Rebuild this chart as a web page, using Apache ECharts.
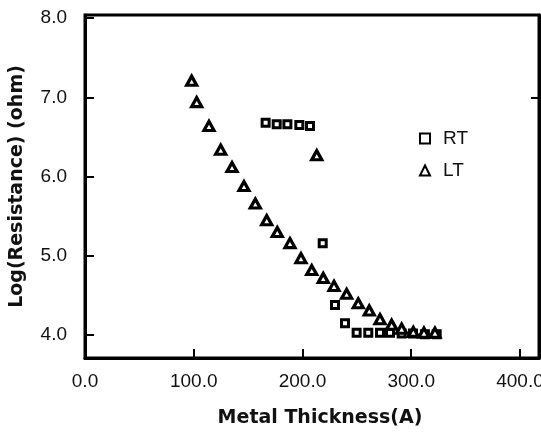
<!DOCTYPE html>
<html>
<head>
<meta charset="utf-8">
<script src="https://cdn.jsdelivr.net/npm/echarts@6/dist/echarts.min.js"></script>
<style>
  html, body { margin: 0; padding: 0; background: #fff; }
  #chart { width: 541px; height: 433px; }
</style>
</head>
<body>
<div id="chart"></div>
<script>
// 数据
const rtX = [166.1, 176.3, 186.1, 197.1, 206.9, 218.6, 229.9, 239.1, 249.8, 260.5, 271.3, 280.5, 291.2, 301.6, 312.6, 323.4]
const rtY = [6.68, 6.66, 6.66, 6.65, 6.64, 5.16, 4.38, 4.15, 4.03, 4.03, 4.03, 4.03, 4.02, 4.02, 4.01, 4.01]

const ltX = [98.1, 102.7, 114.0, 124.8, 135.2, 146.2, 156.6, 167.1, 176.8, 188.5, 198.6, 208.5, 213.1, 219.1, 229.0, 240.6, 251.3, 261.4, 271.3, 282.0, 291.2, 301.9, 311.7, 321.8]
const ltY = [7.21, 6.94, 6.64, 6.34, 6.12, 5.88, 5.66, 5.45, 5.30, 5.16, 4.97, 4.82, 6.27, 4.72, 4.62, 4.52, 4.40, 4.31, 4.20, 4.13, 4.08, 4.04, 4.03, 4.03]

const xTicks = [0, 100, 200, 300, 400]
const yTicks = [4, 5, 6, 7, 8]
const xRange = [0, 417.5]
const yRange = [3.71, 8.04]

function initChart() {
    let myChart = echarts.init(document.querySelector('#chart'))

    const labelFont = {
        fontFamily: 'Liberation Sans',
        fontSize: 19,
        color: '#111'
    }
    const frameLine = { show: true, onZero: false, lineStyle: { color: '#000', width: 3 } }

    const option = {
        backgroundColor: '#fff',
        animation: false,

        grid: {
            left: 85,
            right: 2,
            top: 15,
            bottom: 75,
            outerBoundsMode: 'none', // v6默认会收缩绘图区，这里关掉
            show: true,
            borderColor: '#000',
            borderWidth: 3
        },

        legend: {
            orient: 'vertical',
            left: 414,
            top: 124,
            itemWidth: 10,
            itemHeight: 10,
            itemGap: 13,
            textStyle: {
                fontFamily: 'Liberation Sans',
                fontSize: 19,
                color: '#111',
                padding: [0, 0, 0, 8]
            },
            data: ['RT', 'LT']
        },

        xAxis: {
            type: 'value',
            min: xRange[0],
            max: xRange[1],
            name: 'Metal Thickness(A)',
            nameLocation: 'middle',
            nameGap: 51,
            nameTextStyle: {
                fontFamily: 'DejaVu Sans',
                fontWeight: 'bold',
                fontSize: 19,
                color: '#111',
                padding: [0, 0, 0, 16]
            },
            axisLine: frameLine,
            axisTick: {
                show: true,
                inside: true,
                length: 9,
                lineStyle: { color: '#000', width: 2 },
                customValues: xTicks
            },
            axisLabel: {
                ...labelFont,
                margin: 14,
                customValues: xTicks,
                formatter: v => v.toFixed(1)
            },
            splitLine: { show: false }
        },

        yAxis: [
            {
                type: 'value',
                min: yRange[0],
                max: yRange[1],
                name: 'Log(Resistance) (ohm)',
                nameLocation: 'middle',
                nameGap: 58,
                nameTextStyle: {
                    fontFamily: 'DejaVu Sans',
                    fontWeight: 'bold',
                    fontSize: 19,
                    color: '#111'
                },
                axisLine: frameLine,
                axisTick: {
                    show: true,
                    inside: true,
                    length: 9,
                    lineStyle: { color: '#000', width: 2 },
                    customValues: yTicks
                },
                axisLabel: {
                    ...labelFont,
                    margin: 18,
                    customValues: yTicks,
                    formatter: v => v.toFixed(1)
                },
                splitLine: { show: false }
            },
            // 右边框
            {
                type: 'value',
                position: 'right',
                min: yRange[0],
                max: yRange[1],
                axisLine: frameLine,
                axisTick: {
                    show: true,
                    inside: true,
                    length: 8,
                    lineStyle: { color: '#000', width: 2 },
                    customValues: [7]
                },
                axisLabel: { show: false },
                splitLine: { show: false }
            }
        ],

        series: [
            {
                name: 'RT',
                type: 'scatter',
                symbol: 'rect',
                symbolSize: 7,
                itemStyle: { color: '#fff', borderColor: '#000', borderWidth: 3, opacity: 1 },
                data: rtX.map((x, i) => [x, rtY[i]])
            },
            {
                name: 'LT',
                type: 'scatter',
                symbol: 'triangle',
                symbolSize: [10, 9],
                itemStyle: { color: '#fff', borderColor: '#000', borderWidth: 3.2, opacity: 1 },
                data: ltX.map((x, i) => [x, ltY[i]])
            }
        ]
    }

    myChart.setOption(option)
}
initChart()
</script>
</body>
</html>
